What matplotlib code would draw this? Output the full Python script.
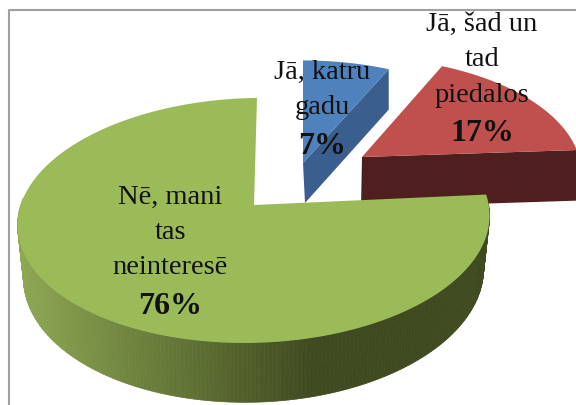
import matplotlib
matplotlib.use('Agg')
import matplotlib.pyplot as plt
import numpy as np
from matplotlib.collections import PolyCollection
from matplotlib.colors import to_rgb

plt.rcParams['font.family'] = ['Liberation Serif', 'DejaVu Serif']

# slices, clockwise from 12 o'clock
values = [7, 17, 76]
labels = [['Jā, katru', 'gadu'], ['Jā, šad un', 'tad', 'piedalos'], ['Nē, mani', 'tas', 'neinteresē']]
top_colors = ['#4f81bd', '#c0504d', '#9bbb59']
wall_colors = ['#3a5f8f', '#4f1f1f', None]

# layout in pixels: disc centre, size, wall depth, skew, tilt, label position
centers = [(303, 163), (362, 157), (254, 205)]
scales = [0.95, 0.92, 0.992]
depths = [45, 51, 52]
skews = [0, -4, 3.4]
tilts = [0, 0, 3]
label_xy = [(322, 72), (482, 24), (170, 197)]
line_h = 35.5

R = 236
H = 121.5
P = 0.1255


def project(theta, center, scale, skew, tilt):
    # perspective: the back of the disc is smaller than the front
    u = np.cos(theta)
    v = np.sin(theta)
    w = 1 + P * v
    x = center[0] + scale * (R * u + skew * v) / w
    y = center[1] - scale * (H * v + tilt * u) / w
    return x, y, w


fig = plt.figure(figsize=(5.76, 4.05), dpi=100)
ax = fig.add_axes([0, 0, 1, 1])
ax.set_xlim(0, 576)
ax.set_ylim(405, 0)
ax.axis('off')

# frame
ax.plot([9, 9, 576], [405, 10, 10], color='#a0a0a0', lw=1.5, zorder=0)

fractions = np.array(values) / sum(values)
edges = np.pi / 2 - 2 * np.pi * np.concatenate([[0], np.cumsum(fractions)])

for i in range(3):
    t = np.linspace(edges[i], edges[i + 1], 300)
    x, y, w = project(t, centers[i], scales[i], skews[i], tilts[i])
    d = depths[i] / w
    cx, cy = centers[i]
    if i == 0:
        # cut face of the blue slice
        wx = [x[-1], x[-1], cx + 2, cx]
        wy = [y[-1], y[-1] + d[-1], cy + 40, cy]
        ax.fill(wx, wy, color=wall_colors[i], lw=0, zorder=2)
    elif i == 1:
        # cut face of the red slice
        wx = [cx, x[-1], x[-1], cx - 1]
        wy = [cy, y[-1], y[-1] + d[-1], cy + d[-1]]
        ax.fill(wx, wy, color=wall_colors[i], lw=0, zorder=3)
    else:
        # green wall, shaded from light on the left to dark on the right
        quads = []
        cols = []
        light = np.array(to_rgb('#8ea853'))
        mid = np.array(to_rgb('#5f7034'))
        dark = np.array(to_rgb('#3f4a20'))
        # bottom rim sits a little inside the top rim
        bx = cx + (x - cx) * 0.975
        for j in range(len(t) - 1):
            if np.sin(t[j]) > 0.08 and np.sin(t[j + 1]) > 0.08:
                continue
            quads.append([(x[j], y[j]), (x[j + 1], y[j + 1]),
                          (bx[j + 1], y[j + 1] + d[j + 1]), (bx[j], y[j] + d[j])])
            f = (x[j] - 15) / 300
            f = min(max(f, 0), 1)
            if f < 0.6:
                cols.append(light + (mid - light) * f / 0.6)
            else:
                cols.append(mid + (dark - mid) * (f - 0.6) / 0.4)
        ax.add_collection(PolyCollection(quads, facecolors=cols, edgecolors=cols, linewidths=0.5, zorder=6))
    ax.fill(np.r_[cx, x], np.r_[cy, y], color=top_colors[i], lw=0, zorder=3 + i if i < 2 else 7)

# labels
for i in range(3):
    lx, ly = label_xy[i]
    for n, line in enumerate(labels[i]):
        ax.text(lx, ly + n * line_h, line, fontsize=20.5, ha='center', va='center', color='#111111', zorder=10)
    ax.text(lx, ly + len(labels[i]) * line_h + 3, '%d%%' % values[i], fontsize=23, fontweight='bold',
            ha='center', va='center', color='#111111', zorder=10)

fig.savefig('out.png', dpi=100)
